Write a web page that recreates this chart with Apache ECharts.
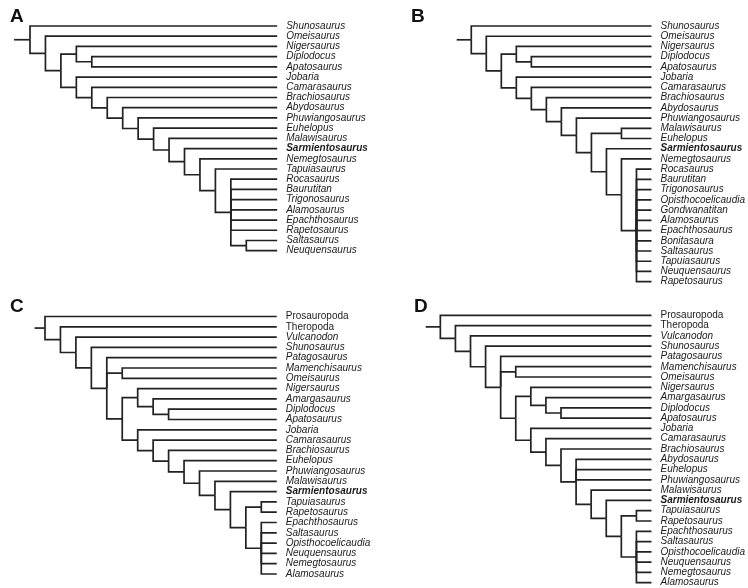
<!DOCTYPE html>
<html>
<head>
<meta charset="utf-8">
<script src="https://cdn.jsdelivr.net/npm/echarts@6/dist/echarts.min.js"></script>
<style>
html,body{margin:0;padding:0;background:#fff;}
#chart{width:748px;height:588px;}
</style>
</head>
<body>
<div id="chart"></div>
<script>
// ---- Data: cladograms in Newick notation (":n" = branch spans n steps, "@k" = node drawn level with child k) ----
const treeA = "(Shunosaurus,(Omeisaurus,((Nigersaurus,(Diplodocus,Apatosaurus)),(Jobaria,(Camarasaurus,(Brachiosaurus,(Abydosaurus,(Phuwiangosaurus,(Euhelopus,(Malawisaurus,(Sarmientosaurus,(Nemegtosaurus,(Tapuiasaurus,(Rocasaurus,Baurutitan,Trigonosaurus,Alamosaurus,Epachthosaurus,Rapetosaurus,(Saltasaurus,Neuquensaurus)))))))))))))))";
const treeB = "(Shunosaurus,(Omeisaurus,((Nigersaurus,(Diplodocus,Apatosaurus)),(Jobaria,(Camarasaurus,(Brachiosaurus,(Abydosaurus,(Phuwiangosaurus,((Malawisaurus,Euhelopus):2,(Sarmientosaurus,(Nemegtosaurus,(Rocasaurus,Baurutitan,Trigonosaurus,Opisthocoelicaudia,Gondwanatitan,Alamosaurus,Epachthosaurus,Bonitasaura,Saltasaurus,Tapuiasaurus,Neuquensaurus,Rapetosaurus)@6)))))))))))";
const treeC = "(Prosauropoda,(Theropoda,(Vulcanodon,(Shunosaurus,(Patagosaurus,(Mamenchisaurus,Omeisaurus),((Nigersaurus,(Amargasaurus,(Diplodocus,Apatosaurus))),(Jobaria,(Camarasaurus,(Brachiosaurus,(Euhelopus,(Phuwiangosaurus,(Malawisaurus,(Sarmientosaurus,((Tapuiasaurus,Rapetosaurus),(Epachthosaurus,Saltasaurus,Opisthocoelicaudia,Neuquensaurus,Nemegtosaurus,Alamosaurus))))))))))))))))";
const treeD = "(Prosauropoda,(Theropoda,(Vulcanodon,(Shunosaurus,(Patagosaurus,(Mamenchisaurus,Omeisaurus),((Nigersaurus,(Amargasaurus,(Diplodocus,Apatosaurus))),(Jobaria,(Camarasaurus,(Brachiosaurus,(Abydosaurus,Euhelopus,Phuwiangosaurus,(Malawisaurus,(Sarmientosaurus,((Tapuiasaurus,Rapetosaurus),(Epachthosaurus,Saltasaurus,Opisthocoelicaudia,Neuquensaurus,Nemegtosaurus,Alamosaurus)))))))))))))))";
const panelTrees = [treeA, treeB, treeC, treeD];
const panelLetters = ["A", "B", "C", "D"];
const tipDepths = [16, 12, 15, 14];        // depth step at which terminal branches end
const boldTaxa = ["Sarmientosaurus"];
const uprightTaxa = ["Prosauropoda", "Theropoda"];

// ---- Layout (pixels) ----
const STEP = 15.45;
const panels = [
  { rootX: 30,    stub: 1.03, top: 26,    bottom: 250.7, lx: 10,  ly: 7 },
  { rootX: 471.7, stub: 0.97, top: 26,    bottom: 281.7, lx: 411, ly: 7 },
  { rootX: 45,    stub: 0.68, top: 316.5, bottom: 574,   lx: 10,  ly: 297 },
  { rootX: 440.7, stub: 0.97, top: 315.3, bottom: 582.7, lx: 414, ly: 297 }
];

function parseNewick(s) {
  let i = 0;
  function node() {
    const n = { children: [], name: "", len: 1, anchor: null };
    if (s[i] === "(") {
      i++;
      n.children.push(node());
      while (s[i] === ",") { i++; n.children.push(node()); }
      if (s[i] === ")") i++;
    }
    let name = "";
    while (i < s.length && !",():;".includes(s[i])) name += s[i++];
    name = name.trim();
    if (name.startsWith("@")) n.anchor = +name.slice(1); else n.name = name;
    if (s[i] === ":") {
      i++; let num = "";
      while (i < s.length && /[0-9.]/.test(s[i])) num += s[i++];
      n.len = +num;
    }
    return n;
  }
  return node();
}

function layoutTree(str, tipDepth, stub) {
  const root = parseNewick(str);
  const leaves = [], edges = [];
  (function walk(n, depth) {
    n.x = depth;
    if (!n.children.length) { n.x = tipDepth; n.y = leaves.length; leaves.push(n.name); return; }
    n.children.forEach(c => walk(c, depth + c.len));
    const ys = n.children.map(c => c.y);
    n.y = n.anchor != null ? ys[n.anchor] : (ys[0] + ys[ys.length - 1]) / 2;
    n.children.forEach(c => edges.push([n.x, n.y, c.x, c.y]));
  })(root, 0);
  edges.push([-stub, root.y, 0, root.y]);
  return { leaves, edges };
}

const grids = [], xAxes = [], yAxes = [], series = [], titles = [];
const baseText = { fontSize: 10, fontFamily: "Liberation Sans, Arial, sans-serif", color: "#1a1a1a" };

panels.forEach((p, k) => {
  const { leaves, edges } = layoutTree(panelTrees[k], tipDepths[k], p.stub);
  const left = p.rootX - p.stub * STEP;
  grids.push({ left: left, top: p.top, width: (tipDepths[k] + p.stub) * STEP, height: p.bottom - p.top, containLabel: false });
  xAxes.push({ type: "value", gridIndex: k, min: -p.stub, max: tipDepths[k], show: false });
  yAxes.push({
    type: "value", gridIndex: k, min: 0, max: leaves.length - 1, interval: 1, inverse: true,
    position: "right",
    axisLine: { show: false }, axisTick: { show: false }, splitLine: { show: false },
    axisLabel: {
      show: true, margin: 9, showMinLabel: true, showMaxLabel: true,
      formatter: v => {
        const name = leaves[Math.round(v)] || "";
        const key = boldTaxa.includes(name) ? "b" : (uprightTaxa.includes(name) ? "n" : "i");
        return "{" + key + "|" + name + "}";
      },
      rich: {
        i: Object.assign({}, baseText, { fontStyle: "italic" }),
        b: Object.assign({}, baseText, { fontStyle: "italic", fontWeight: "bold" }),
        n: Object.assign({}, baseText, { fontStyle: "normal" })
      }
    }
  });
  series.push({
    type: "custom", xAxisIndex: k, yAxisIndex: k, clip: false, silent: true,
    data: edges,
    encode: { x: [0, 2], y: [1, 3] },
    renderItem: (params, api) => {
      const a = api.coord([api.value(0), api.value(1)]);
      const b = api.coord([api.value(0), api.value(3)]);
      const c = api.coord([api.value(2), api.value(3)]);
      return {
        type: "polyline",
        shape: { points: [a, b, c] },
        style: { stroke: "#222", lineWidth: 1.7, fill: null, lineJoin: "miter", lineCap: "butt" }
      };
    }
  });
  titles.push({
    text: panelLetters[k], left: p.lx, top: p.ly, padding: 0,
    textStyle: { fontSize: 19, fontWeight: "bold", color: "#111", fontFamily: "Liberation Sans, Arial, sans-serif" }
  });
});

const chart = echarts.init(document.getElementById("chart"), null, { renderer: "canvas", width: 748, height: 588 });
chart.setOption({
  backgroundColor: "#ffffff",
  animation: false,
  title: titles,
  grid: grids,
  xAxis: xAxes,
  yAxis: yAxes,
  series: series
});
</script>
</body>
</html>
